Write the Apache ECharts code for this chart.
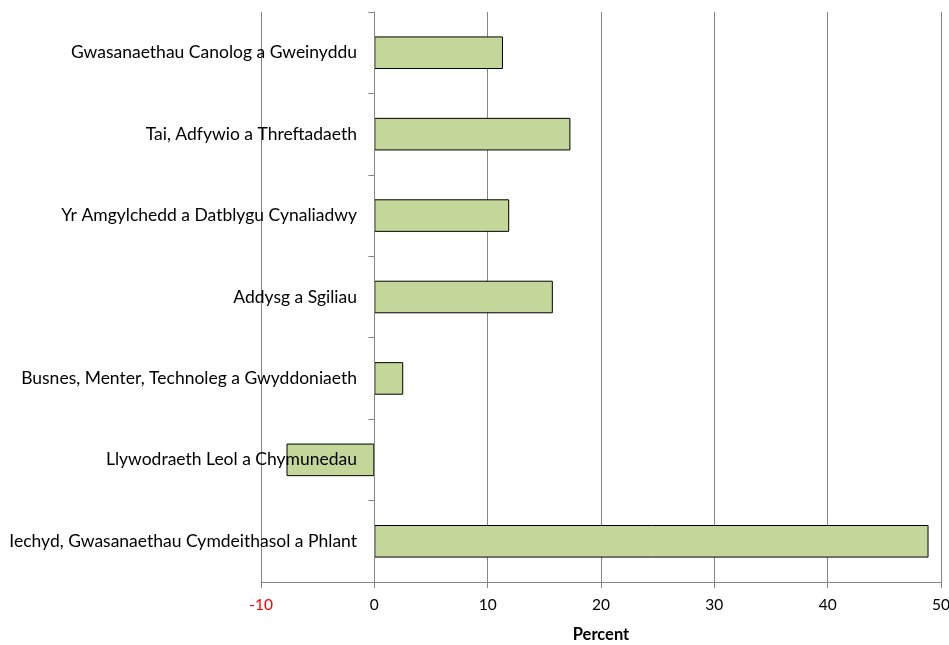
<!DOCTYPE html>
<html><head><meta charset="utf-8">
<script src="https://cdn.jsdelivr.net/npm/echarts@6/dist/echarts.min.js"></script>
<style>html,body{margin:0;padding:0;background:#fff}#c{width:949px;height:645px}</style>
</head><body><div id="c"></div>
<script>
const categories = [
  "Gwasanaethau Canolog a Gweinyddu",
  "Tai, Adfywio a Threftadaeth",
  "Yr Amgylchedd a Datblygu Cynaliadwy",
  "Addysg a Sgiliau",
  "Busnes, Menter, Technoleg a Gwyddoniaeth",
  "Llywodraeth Leol a Chymunedau",
  "Iechyd, Gwasanaethau Cymdeithasol a Phlant"
];
const values = [11.35, 17.3, 11.9, 15.75, 2.55, -7.75, 48.9];
const xMin = -10, xMax = 50, xStep = 10;
const xTitle = "Percent";

const chart = echarts.init(document.getElementById('c'), null, {renderer:'canvas'});
const font = "Lato, 'Open Sans', sans-serif";
chart.setOption({
  animation:false,
  grid:{left:261, right:8, top:12, bottom:63, containLabel:false, outerBoundsMode:'none'},
  xAxis:{
    type:'value', min:xMin, max:xMax, interval:xStep,
    name:xTitle, nameLocation:'middle', nameGap:44,
    nameTextStyle:{fontFamily:font, fontSize:16.5, fontWeight:'bold', color:'#000'},
    axisLine:{show:true, lineStyle:{color:'#868686', width:1}},
    axisTick:{show:true, length:6, lineStyle:{color:'#868686'}},
    axisLabel:{fontFamily:font, fontSize:15.5, margin:15,
      color:(v)=> v<0 ? '#ff0000' : '#000'},
    splitLine:{show:true, lineStyle:{color:'#868686', width:1}}
  },
  yAxis:{
    type:'category', data:categories, inverse:true, z:5,
    axisLine:{show:true, onZero:true, lineStyle:{color:'#868686', width:1}},
    axisTick:{show:true, length:6, alignWithLabel:false, lineStyle:{color:'#868686'}},
    axisLabel:{fontFamily:font, fontSize:17.5, color:'#000', margin:-96},
    splitLine:{show:false}
  },
  series:[{
    type:'bar', data:values, barCategoryGap:'60%', z:2,
    itemStyle:{color:'#c4d79b', borderColor:'#000', borderWidth:1}
  }]
});
</script></body></html>
